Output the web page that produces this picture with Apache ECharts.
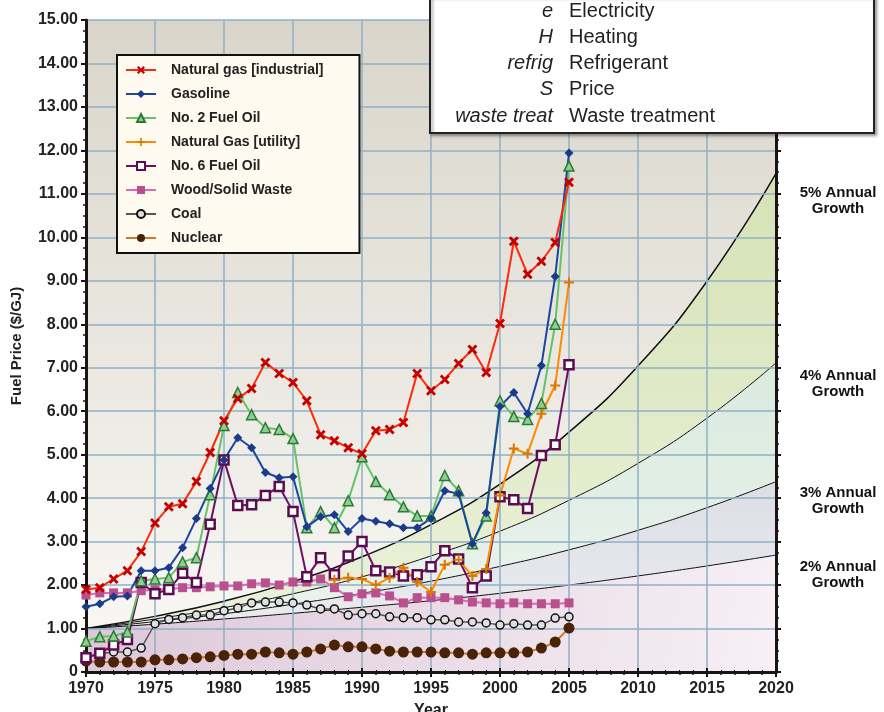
<!DOCTYPE html>
<html>
<head>
<meta charset="utf-8">
<script src="https://cdn.jsdelivr.net/npm/echarts@6/dist/echarts.min.js"></script>
<style>
  html, body { margin: 0; padding: 0; background: #fff; }
  #main { width: 884px; height: 712px; }
</style>
</head>
<body>
<div id="main"></div>
<script>
// years of the fuel price series
var years = [1970, 1971, 1972, 1973, 1974, 1975, 1976, 1977, 1978, 1979,
             1980, 1981, 1982, 1983, 1984, 1985, 1986, 1987, 1988, 1989,
             1990, 1991, 1992, 1993, 1994, 1995, 1996, 1997, 1998, 1999,
             2000, 2001, 2002, 2003, 2004, 2005];

var natGasIndustrial = [1.90, 1.94, 2.14, 2.33, 2.77, 3.43, 3.80, 3.87, 4.38, 5.05,
                        5.78, 6.29, 6.52, 7.12, 6.87, 6.66, 6.24, 5.46, 5.32, 5.16,
                        5.02, 5.55, 5.58, 5.74, 6.87, 6.47, 6.73, 7.10, 7.42, 6.89,
                        8.02, 9.91, 9.15, 9.45, 9.88, 11.27];
var gasoline = [1.50, 1.57, 1.73, 1.75, 2.33, 2.33, 2.40, 2.86, 3.53, 4.22,
                4.88, 5.39, 5.16, 4.59, 4.47, 4.49, 3.34, 3.57, 3.62, 3.23,
                3.53, 3.47, 3.41, 3.32, 3.32, 3.53, 4.17, 4.10, 2.95, 3.66,
                6.11, 6.43, 5.94, 7.05, 9.10, 11.94];
var fuelOil2 = [0.71, 0.81, 0.83, 0.92, 2.10, 2.14, 2.17, 2.53, 2.63, 4.08,
                5.67, 6.43, 5.92, 5.62, 5.58, 5.37, 3.32, 3.69, 3.32, 3.94,
                4.95, 4.38, 4.08, 3.80, 3.59, 3.59, 4.52, 4.17, 2.95, 3.59,
                6.24, 5.88, 5.81, 6.18, 8.00, 11.64];
// utility natural gas starts in 1988
var utilYears = [1988, 1989, 1990, 1991, 1992, 1993, 1994, 1995, 1996, 1997,
                 1998, 1999, 2000, 2001, 2002, 2003, 2004, 2005];
var natGasUtility = [2.12, 2.17, 2.14, 2.00, 2.17, 2.40, 2.07, 1.84, 2.47, 2.58,
                     2.21, 2.37, 4.06, 5.14, 5.02, 5.94, 6.59, 8.96];
var fuelOil6 = [0.33, 0.43, 0.62, 0.75, 2.06, 1.80, 1.90, 2.27, 2.06, 3.40,
                4.88, 3.83, 3.85, 4.06, 4.27, 3.69, 2.19, 2.63, 2.24, 2.67,
                3.00, 2.33, 2.30, 2.21, 2.24, 2.42, 2.79, 2.60, 1.94, 2.21,
                4.03, 3.96, 3.76, 4.98, 5.23, 7.07];
var woodWaste = [1.77, 1.82, 1.82, 1.82, 1.87, 1.89, 1.91, 1.94, 1.94, 1.96,
                 1.98, 1.98, 2.03, 2.05, 2.00, 2.07, 2.07, 2.14, 1.94, 1.73,
                 1.80, 1.82, 1.75, 1.59, 1.71, 1.71, 1.71, 1.66, 1.61, 1.59,
                 1.57, 1.59, 1.57, 1.57, 1.57, 1.59];
var coal = [0.33, 0.42, 0.46, 0.46, 0.55, 1.11, 1.21, 1.25, 1.31, 1.31,
            1.41, 1.47, 1.59, 1.61, 1.61, 1.59, 1.54, 1.45, 1.45, 1.31,
            1.34, 1.34, 1.27, 1.25, 1.25, 1.20, 1.20, 1.15, 1.15, 1.13,
            1.08, 1.11, 1.08, 1.08, 1.24, 1.27];
var nuclear = [0.25, 0.23, 0.23, 0.23, 0.23, 0.28, 0.28, 0.30, 0.33, 0.35,
               0.38, 0.41, 0.41, 0.46, 0.44, 0.41, 0.46, 0.53, 0.62, 0.58,
               0.58, 0.53, 0.48, 0.46, 0.46, 0.46, 0.44, 0.44, 0.41, 0.44,
               0.44, 0.44, 0.46, 0.55, 0.69, 1.01];

// reference growth curves (start at 1.00 in 1970)
var growthYears = [1970, 1975, 1980, 1985, 1990, 1995, 2000, 2005, 2010, 2015, 2020];
var growth5 = [1.00, 1.28, 1.63, 2.08, 2.65, 3.39, 4.32, 5.52, 7.04, 8.99, 11.47];
var growth4 = [1.00, 1.22, 1.48, 1.80, 2.19, 2.67, 3.24, 3.95, 4.80, 5.84, 7.11];
var growth3 = [1.00, 1.16, 1.34, 1.56, 1.81, 2.09, 2.43, 2.81, 3.26, 3.78, 4.38];
var growth2 = [1.00, 1.10, 1.22, 1.35, 1.49, 1.64, 1.81, 2.00, 2.21, 2.44, 2.69];

// abbreviation box
var abbrevs = ['e', 'H', 'refrig', 'S', 'waste treat'];
var meanings = ['Electricity', 'Heating', 'Refrigerant', 'Price', 'Waste treatment'];

function pairs(xs, ys) {
    return xs.map(function (x, i) { return [x, ys[i]]; });
}

var FONT = '"Liberation Sans", Arial, sans-serif';
var axisColor = '#1c1414';
var gridColor = '#8fb1c6';

var xSymbol = 'path://M2,0L5,3L8,0L10,2L7,5L10,8L8,10L5,7L2,10L0,8L3,5L0,2Z';
var plusSymbol = 'path://M4,0L6,0L6,4L10,4L10,6L6,6L6,10L4,10L4,6L0,6L0,4L4,4Z';

function growthSeries(name, data, label, fill, offset, width) {
    return {
        name: name,
        type: 'line',
        data: pairs(growthYears, data),
        smooth: true,
        symbol: 'none',
        silent: true,
        z: 1,
        lineStyle: { color: '#111', width: width },
        areaStyle: { color: fill, opacity: 1, origin: 'start' },
        endLabel: {
            show: true,
            formatter: label,
            align: 'center',
            offset: offset,
            color: '#111',
            fontFamily: FONT,
            fontWeight: 'bold',
            fontSize: 15,
            lineHeight: 16
        }
    };
}

function grad(c1, c2, diag) {
    return new echarts.graphic.LinearGradient(0, 0, diag ? 1 : 0, 1, [
        { offset: 0, color: c1 }, { offset: 1, color: c2 }
    ]);
}

function dataSeries(name, data, xs, lineColor, symbol, symbolSize, fill, border, borderWidth, lineWidth) {
    return {
        name: name,
        type: 'line',
        data: pairs(xs, data),
        symbol: symbol,
        symbolSize: symbolSize,
        z: 3,
        lineStyle: { color: lineColor, width: lineWidth || 2 },
        itemStyle: { color: fill, borderColor: border, borderWidth: borderWidth }
    };
}

var myChart = echarts.init(document.getElementById('main'));

// abbreviation box elements
var boxElements = [{
    type: 'rect',
    z: 50,
    shape: { x: 430, y: -4, width: 444, height: 137 },
    style: {
        fill: '#fff', stroke: '#222', lineWidth: 2,
        shadowBlur: 3, shadowOffsetX: 2, shadowOffsetY: 2, shadowColor: 'rgba(0,0,0,0.35)'
    }
}];
abbrevs.forEach(function (a, i) {
    boxElements.push({
        type: 'text',
        z: 51,
        x: 553, y: 11 + i * 26.3,
        style: {
            text: a, align: 'right', verticalAlign: 'middle',
            fontFamily: FONT, fontStyle: 'italic', fontSize: 20, fill: '#222'
        }
    });
    boxElements.push({
        type: 'text',
        z: 51,
        x: 569, y: 11 + i * 26.3,
        style: {
            text: meanings[i], align: 'left', verticalAlign: 'middle',
            fontFamily: FONT, fontSize: 20, fill: '#222'
        }
    });
});

var option = {
    backgroundColor: '#fff',
    animation: false,
    textStyle: { fontFamily: FONT },
    grid: {
        left: 86, right: 108, top: 20, bottom: 40,
        outerBoundsMode: 'none',
        containLabel: false,
        show: true,
        z: 0,
        borderWidth: 0,
        backgroundColor: grad('#d9d5ca', '#faf9f6')
    },
    legend: {
        data: ['Natural gas [industrial]', 'Gasoline', 'No. 2 Fuel Oil', 'Natural Gas [utility]',
               'No. 6 Fuel Oil', 'Wood/Solid Waste', 'Coal', 'Nuclear'],
        orient: 'vertical',
        left: 117, top: 55,
        itemWidth: 30, itemHeight: 10,
        itemGap: 10,
        padding: [8, 36, 8, 8],
        backgroundColor: '#fffaf0',
        borderColor: '#111',
        borderWidth: 2,
        selectedMode: false,
        z: 5,
        textStyle: { fontFamily: FONT, fontWeight: 'bold', fontSize: 14, color: '#222', padding: [0, 0, 0, 10] }
    },
    xAxis: [{
        type: 'value',
        min: 1970, max: 2020, interval: 5,
        z: 2,
        name: 'Year',
        nameLocation: 'middle',
        nameGap: 31,
        nameTextStyle: { fontFamily: FONT, fontWeight: 'bold', fontSize: 16, color: '#222' },
        axisLine: { onZero: false, lineStyle: { color: axisColor, width: 3 } },
        axisTick: { length: 5, lineStyle: { color: axisColor, width: 2 } },
        minorTick: { show: true, splitNumber: 5, length: 3, lineStyle: { color: axisColor, width: 1.5 } },
        axisLabel: {
            margin: 9, fontFamily: FONT, fontWeight: 'bold', fontSize: 16, color: '#222',
            formatter: function (v) { return String(v); }
        },
        splitLine: { show: true, lineStyle: { color: gridColor, width: 1.5 } }
    }, {
        type: 'value',
        position: 'top',
        min: 1970, max: 2020, interval: 5,
        z: 2,
        axisLine: { show: true, lineStyle: { color: axisColor, width: 3 } },
        axisTick: { length: 4, lineStyle: { color: axisColor, width: 2 } },
        minorTick: { show: true, splitNumber: 5, length: 2, lineStyle: { color: axisColor } },
        axisLabel: { show: false },
        splitLine: { show: false }
    }],
    yAxis: [{
        type: 'value',
        min: 0, max: 15, interval: 1,
        z: 2,
        name: 'Fuel Price ($/GJ)',
        nameLocation: 'middle',
        nameGap: 62,
        nameTextStyle: { fontFamily: FONT, fontWeight: 'bold', fontSize: 15, color: '#222' },
        axisLine: { show: true, onZero: false, lineStyle: { color: axisColor, width: 3 } },
        axisTick: { show: true, length: 5, lineStyle: { color: axisColor, width: 2 } },
        minorTick: { show: true, splitNumber: 4, length: 3, lineStyle: { color: axisColor, width: 1.5 } },
        axisLabel: {
            margin: 8, fontFamily: FONT, fontWeight: 'bold', fontSize: 16, color: '#222',
            formatter: function (v) { return v === 0 ? '0' : v.toFixed(2); }
        },
        splitLine: { show: true, lineStyle: { color: gridColor, width: 1.5 } }
    }, {
        type: 'value',
        position: 'right',
        min: 0, max: 15, interval: 1,
        z: 2,
        axisLine: { show: true, lineStyle: { color: axisColor, width: 3 } },
        axisTick: { show: true, length: 5, lineStyle: { color: axisColor, width: 2 } },
        minorTick: { show: true, splitNumber: 4, length: 3, lineStyle: { color: axisColor, width: 1.5 } },
        axisLabel: { show: false },
        splitLine: { show: false }
    }],
    series: [
        growthSeries('5%', growth5, '5% Annual\nGrowth', grad('#d5e2b5', '#eef3df'), [54, 27], 1.5),
        growthSeries('4%', growth4, '4% Annual\nGrowth', grad('#d9eadf', '#eef5ee'), [54, 21], 1),
        growthSeries('3%', growth3, '3% Annual\nGrowth', grad('#dcdee5', '#eff0f2'), [54, 19], 1),
        growthSeries('2%', growth2, '2% Annual\nGrowth', grad('#dcc7d8', '#f7f0f5', true), [54, 20], 1),

        dataSeries('Nuclear', nuclear, years, '#c97a30', 'circle', 11, '#4a2208', '#4a2208', 0, 2),
        dataSeries('Coal', coal, years, '#555', 'circle', 8, '#e0e0e0', '#111', 1.5, 1.5),
        dataSeries('Wood/Solid Waste', woodWaste, years, '#e466b4', 'rect', 9, '#b8508e', '#b8508e', 0, 2),
        dataSeries('No. 6 Fuel Oil', fuelOil6, years, '#6c0f62', 'rect', 9, '#fff', '#5c0d52', 2.5, 2),
        dataSeries('Natural Gas [utility]', natGasUtility, utilYears, '#ff8a00', plusSymbol, 10, '#d97800', '#d97800', 0, 2),
        dataSeries('No. 2 Fuel Oil', fuelOil2, years, '#66c266', 'triangle', 10, '#8fce8f', '#2c7a38', 1.5, 2),
        dataSeries('Gasoline', gasoline, years, '#1a45a0', 'diamond', 9, '#1b3a8a', '#1b3a8a', 0, 2),
        dataSeries('Natural gas [industrial]', natGasIndustrial, years, '#ff2a0a', xSymbol, 10, '#c40000', '#c40000', 0, 2)
    ],
    graphic: { elements: boxElements }
};

myChart.setOption(option);
</script>
</body>
</html>
